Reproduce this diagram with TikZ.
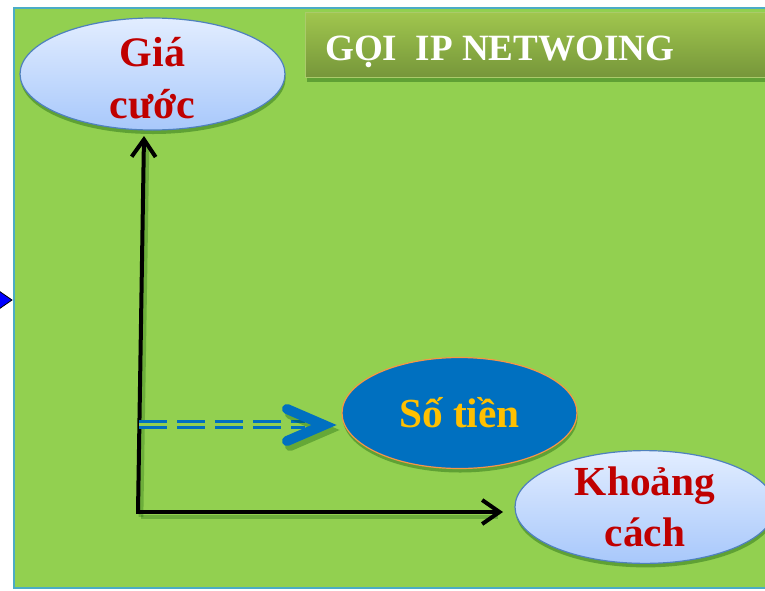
\documentclass[tikz,border=0pt]{standalone}
\usepackage{fontspec}
\setmainfont{Liberation Serif}
\usetikzlibrary{shapes.geometric,shadows,arrows.meta,calc}
\definecolor{bggreen}{HTML}{92D050}
\definecolor{bordblue}{HTML}{4BACC6}
\definecolor{ellblue}{HTML}{4F81BD}
\definecolor{ellTop}{HTML}{E2EDFF}
\definecolor{ellBot}{HTML}{A8C8FB}
\definecolor{darkred}{HTML}{C00000}
\definecolor{midblue}{HTML}{0070C0}
\definecolor{orangeb}{HTML}{F79646}
\definecolor{goldtxt}{HTML}{FFC000}
\definecolor{titTop}{HTML}{A0C64E}
\definecolor{titBot}{HTML}{76963A}
\definecolor{titBord}{HTML}{AACB6A}
\tikzset{
  bubble/.style={ellipse, draw=ellblue, line width=0.9pt, top color=ellTop, bottom color=ellBot,
    text=darkred, font=\bfseries\fontsize{31}{38}\selectfont, align=center, inner sep=0pt,
    drop shadow={shadow xshift=0.5pt, shadow yshift=-3pt, opacity=0.35, fill=black!70!green}},
  bubbletext/.style={text=darkred, font=\bfseries\fontsize{31.5}{39}\selectfont, align=center, inner sep=0pt},
  moneybubble/.style={ellipse, draw=orangeb, line width=0.9pt, fill=midblue,
    text=goldtxt, font=\bfseries\fontsize{31}{38}\selectfont, align=center, inner sep=0pt,
    drop shadow={shadow xshift=0.5pt, shadow yshift=-3pt, opacity=0.35, fill=black!70!green}},
  titlebox/.style={rectangle, draw=titBord, line width=0.8pt, top color=titTop, bottom color=titBot,
    inner sep=0pt, drop shadow={shadow xshift=1pt, shadow yshift=-3pt, opacity=0.35, fill=black!70!green}},
  titletext/.style={text=white, font=\bfseries\fontsize{27.8}{34}\selectfont, inner sep=0pt},
  blkarrow/.style={draw=black, line width=3pt, -{Straight Barb[length=13pt,width=18pt,line width=3pt]}},
  shadowline/.style={draw=black!70!green, opacity=0.25, line width=3.5pt},
  dashdouble/.style={draw=midblue, line width=2.6pt, double=bggreen, double distance=2pt,
    dash pattern=on 21pt off 7.5pt},
  chevron/.style={draw=midblue, line width=7.5pt, line cap=round, line join=miter},
}
\begin{document}
\begin{tikzpicture}[x=0.75pt,y=-0.75pt]
\useasboundingbox (0,0) rectangle (765,590);
\clip (0,0) rectangle (765,590);
\fill[white] (0,0) rectangle (765,590);
% background panel
\draw[fill=bggreen, draw=bordblue, line width=1.6pt] (14,8) rectangle (800,588);
% blue marker at left edge
\draw[fill=blue, draw=black, line width=0.6pt] (-14,282) -- (12,300) -- (-14,318) -- cycle;
% title
\node[titlebox, anchor=north west, minimum width=360pt, minimum height=48.75pt] (title) at (305,12) {};
\node[titletext, anchor=base west] (titletxt) at (325,60) {GỌI\ \ IP NETWOING};
% ellipses
\node[bubble, minimum width=198.75pt, minimum height=84pt] (gia) at (152.5,74) {};
\node[bubbletext] (giatext) at ($(gia.center)+(0,4)$) {Giá\\cước};
\node[moneybubble, minimum width=176.25pt, minimum height=83.25pt] (sotien) at (459.5,413) {Số tiền};
\node[bubble, minimum width=195pt, minimum height=80.25pt] (khoang) at (645,507) {Khoảng\\cách};
% coordinates
\coordinate (corner) at (138,512);
\coordinate (upTip) at (144,136);
\coordinate (rightTip) at (503,512);
\coordinate (dashStart) at (139,424.5);
\coordinate (dashEnd) at (305,424.5);
\coordinate (chevTip) at (324,425);
% shadows of black arrows
\draw[shadowline] ($(corner)+(3,5)$) -- ($(upTip)+(3,8)$);
\draw[shadowline] ($(corner)+(3,5)$) -- ($(rightTip)+(-5,5)$);
% black arrows
\draw[blkarrow] (corner) -- (upTip);
\draw[blkarrow] ($(corner)+(-2,0)$) -- (rightTip);
% double dashed arrow to Số tiền
\draw[dashdouble] (dashStart) -- (dashEnd);
\draw[draw=black!70!green, opacity=0.3, line width=7.5pt, line cap=round]
  ($(chevTip)+(-37,-16)+(3,5)$) -- ($(chevTip)+(3,5)$) -- ($(chevTip)+(-37,16)+(3,5)$);
\draw[chevron] ($(chevTip)+(-37,-16)$) -- (chevTip) -- ($(chevTip)+(-37,16)$);
\end{tikzpicture}
\end{document}
